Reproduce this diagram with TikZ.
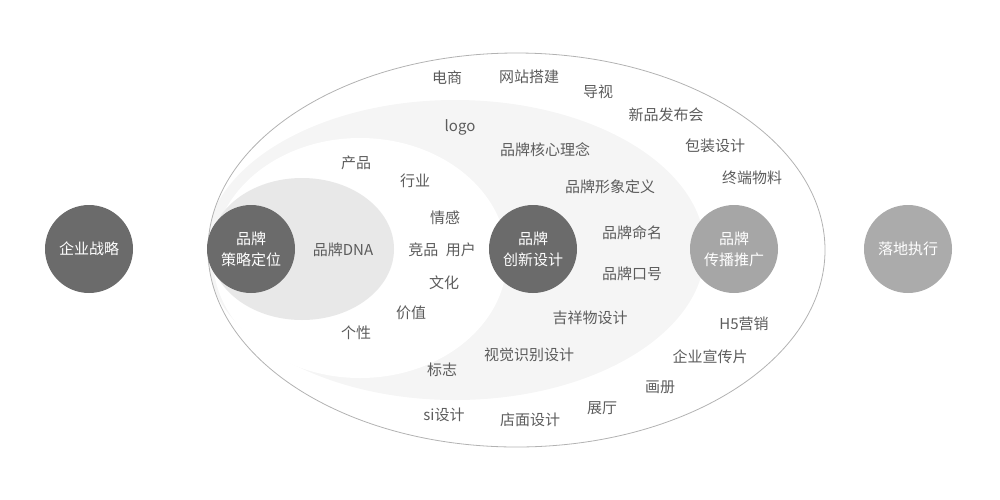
\documentclass[tikz,border=0pt]{standalone}
\usepackage{fontspec}
\setmainfont{Noto Sans CJK SC}
\begin{document}
\begin{tikzpicture}[x=1pt,y=-1pt,font=\fontsize{15}{21}\selectfont,
		ball/.style={circle,minimum size=88pt,inner sep=0pt,text=white,align=center,fill=#1},
		word/.style={text=black!64,inner sep=1pt}]
				\useasboundingbox (0,0) rectangle (1000,499);
				\def\vongngoai{(516.5,250) ellipse [x radius=308.5,y radius=197]}
				\def\vongdai{(455,250) ellipse [x radius=250,y radius=150]}
				\def\vongtrong{(360,258) ellipse [x radius=147,y radius=120]}
				\def\vongdna{(302,249) ellipse [x radius=92,y radius=71]}
				\begin{scope}
					\clip \vongngoai;
					\fill[black!4] \vongdai;
					\fill[white] \vongtrong;
					\fill[black!9] \vongdna;
				\end{scope}
				\draw[black!30,line width=0.8pt] \vongngoai;
				% circles
				\node[ball=black!58] (chienluoc) at (89,249) {企业战略};
				\node[ball=black!58] (dinhvi) at (251,249) {品牌\\策略定位};
				\node[ball=black!58] (sangtao) at (533,249) {品牌\\创新设计};
				\node[ball=black!35] (quangba) at (734,249) {品牌\\传播推广};
				\node[ball=black!33] (thuchien) at (908,249) {落地执行};
				% words
				\node[word] (dianshang) at (447,78) {电商};
				\node[word] (wangzhan) at (529,77) {网站搭建};
				\node[word] (daoshi) at (598,92) {导视};
				\node[word] (fabuhui) at (666,115) {新品发布会};
				\node[word] (logo) at (460,127) {logo};
				\node[word] (linian) at (545,150) {品牌核心理念};
				\node[word] (baozhuang) at (715,146) {包装设计};
				\node[word] (chanpin) at (356,163) {产品};
				\node[word] (hangye) at (415,181) {行业};
				\node[word] (xingxiang) at (610,187) {品牌形象定义};
				\node[word] (zhongduan) at (752,178) {终端物料};
				\node[word] (qinggan) at (445,218) {情感};
				\node[word] (dna) at (343,250) {品牌DNA};
				\node[word] (jingpin) at (442,250) {竞品\hspace{0.5em}用户};
				\node[word] (mingming) at (632,233) {品牌命名};
				\node[word] (kouhao) at (632,274) {品牌口号};
				\node[word] (wenhua) at (444,283) {文化};
				\node[word] (jiazhi) at (411,313) {价值};
				\node[word] (jixiangwu) at (590,318) {吉祥物设计};
				\node[word] (yingxiao) at (744,324) {H5营销};
				\node[word] (gexing) at (356,333) {个性};
				\node[word] (shijue) at (529,355) {视觉识别设计};
				\node[word] (xuanchuan) at (710,357) {企业宣传片};
				\node[word] (biaozhi) at (442,370) {标志};
				\node[word] (huace) at (660,387) {画册};
				\node[word] (zhanting) at (602,408) {展厅};
				\node[word] (si) at (444,415) {si设计};
				\node[word] (dianmian) at (530,420) {店面设计};
			\end{tikzpicture}
\end{document}
